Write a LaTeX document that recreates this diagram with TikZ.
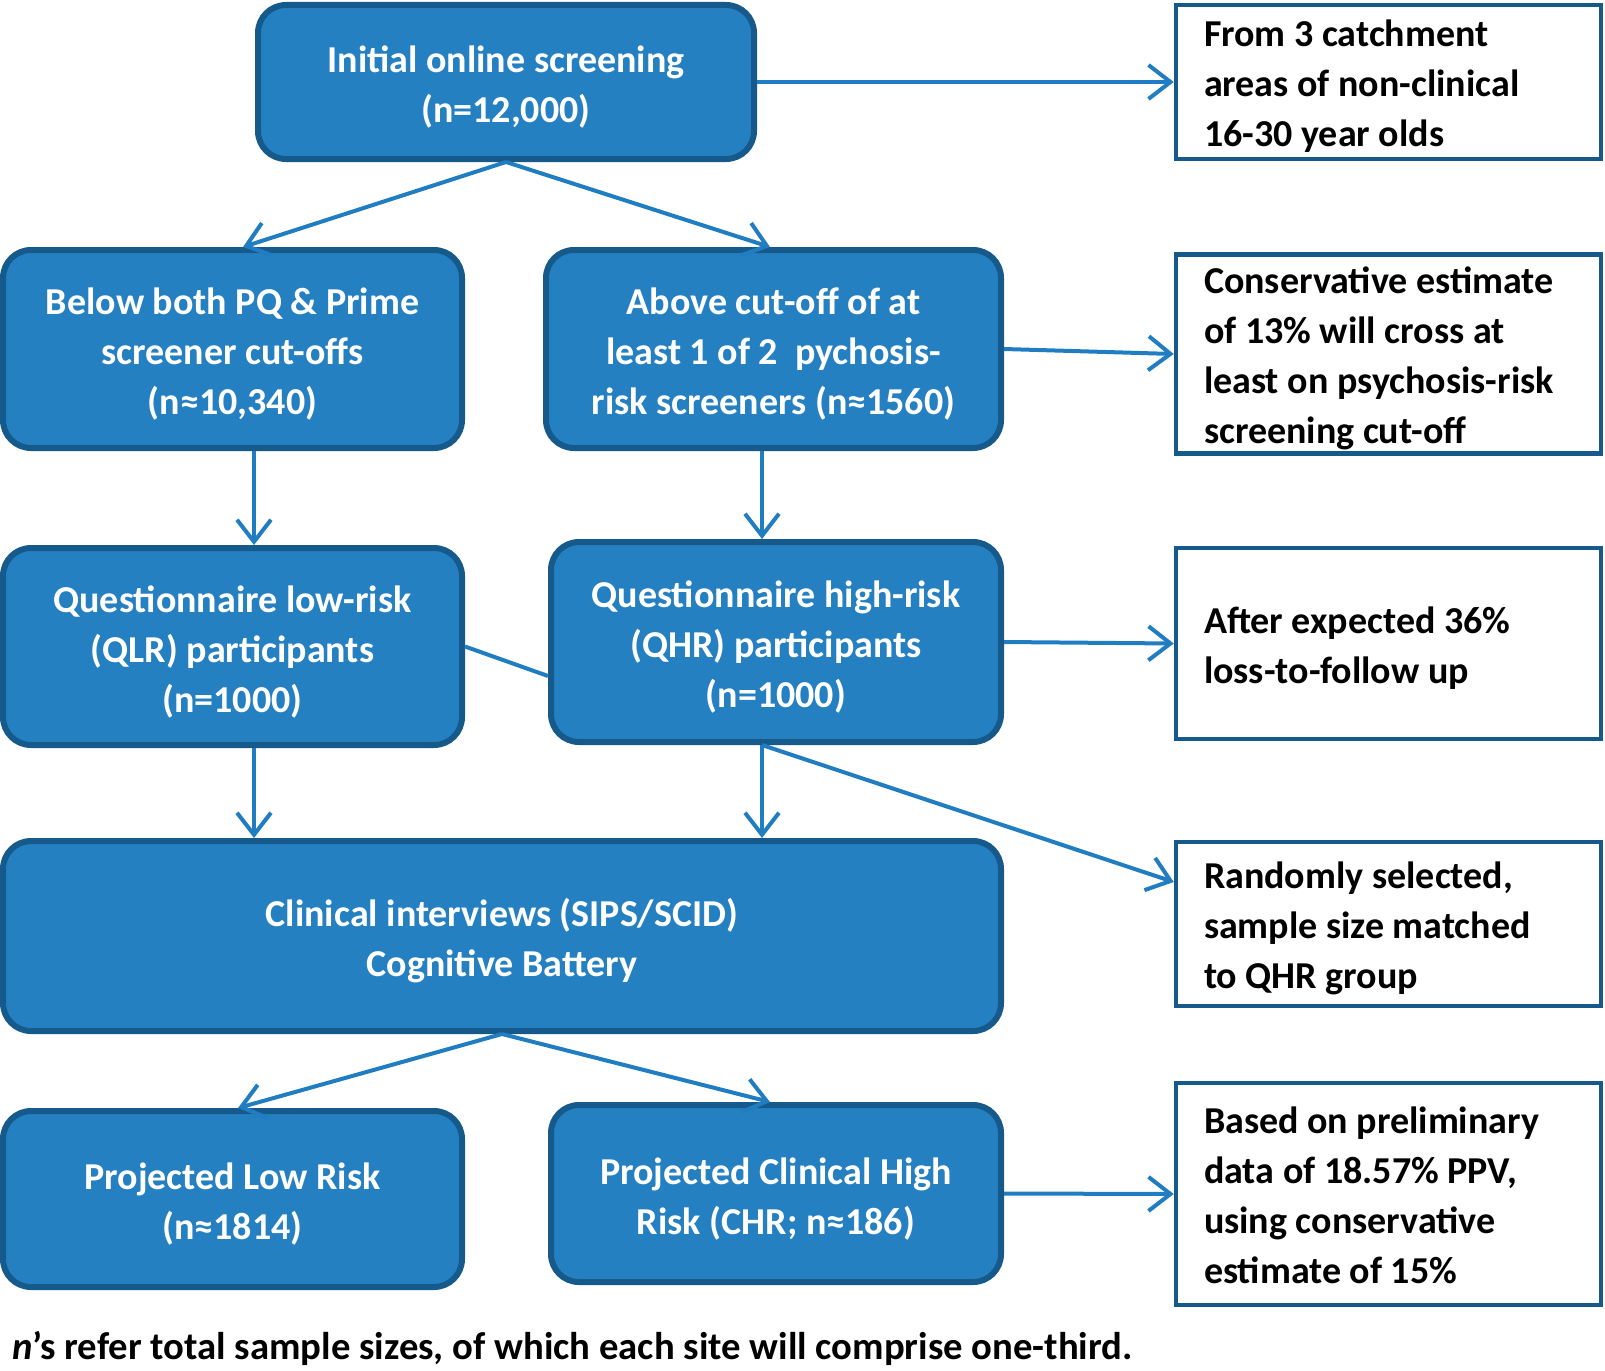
\documentclass[tikz,border=0pt]{standalone}
\usepackage{fontspec}
\setmainfont{Carlito}
\usetikzlibrary{arrows.meta,calc}
\definecolor{boxfill}{RGB}{37,128,194}
\definecolor{boxline}{RGB}{22,90,140}
\definecolor{arrowc}{RGB}{33,125,193}
\newcommand\tstrut{\rule{0pt}{41pt}}
\newcommand\nstrut{\rule{0pt}{39pt}}
\newcommand\bstrut{\rule[-10pt]{0pt}{10pt}}
\begin{document}
\begin{tikzpicture}[x=1pt,y=-1pt,
  font=\bfseries\fontsize{38}{50}\selectfont,
  bluebox/.style={draw=boxline, line width=6pt, fill=boxfill, rounded corners=28pt,
    text=white, align=center, inner sep=0pt},
  notebox/.style={draw=boxline, line width=4.5pt, fill=white, text=black, align=flush left,
    text width=369pt, inner xsep=28pt, inner ysep=0pt},
  arr/.style={draw=arrowc, line width=4pt,
    -{Straight Barb[length=22pt,width=34pt,line width=4pt]}},
  link/.style={draw=arrowc, line width=4pt}]
\useasboundingbox (0,0) rectangle (1605,1370);

% main boxes
\node[bluebox, minimum width=496pt, minimum height=154pt] (init) at (506,82)
  {\tstrut Initial online screening\\(n=12,000)\bstrut};
\node[bluebox, minimum width=459pt, minimum height=198pt] (below) at (232.5,349)
  {\tstrut Below both PQ \& Prime\\screener cut-offs\\(n≈10,340)\bstrut};
\node[bluebox, minimum width=455pt, minimum height=198pt] (above) at (773.5,349)
  {\tstrut Above cut-off of at\\least 1 of 2\ \ pychosis-\\risk screeners (n≈1560)\bstrut};
\node[bluebox, minimum width=459pt, minimum height=197pt] (qlr) at (232.5,646.5)
  {\tstrut Questionnaire low-risk\\(QLR) participants\\(n=1000)\bstrut};
\node[bluebox, minimum width=450pt, minimum height=200pt] (qhr) at (776,642)
  {\tstrut Questionnaire high-risk\\(QHR) participants\\(n=1000)\bstrut};
\node[bluebox, minimum width=998pt, minimum height=190pt] (clin) at (502,936)
  {\tstrut Clinical interviews (SIPS/SCID)\\Cognitive Battery\bstrut};
\node[bluebox, minimum width=459pt, minimum height=176pt] (low) at (232.5,1199)
  {\tstrut Projected Low Risk\\(n≈1814)\bstrut};
\node[bluebox, minimum width=450pt, minimum height=177pt] (chr) at (776,1193.5)
  {\tstrut Projected Clinical High\\Risk (CHR; n≈186)\bstrut};

% note boxes
\node[notebox, minimum height=154pt] (r1) at (1388.5,82)
  {\nstrut From 3 catchment\\areas of non-clinical\\16-30 year olds\bstrut};
\node[notebox, minimum height=196pt] (r2) at (1388.5,354)
  {\nstrut Conservative estimate\\of 13\% will cross at\\least on psychosis-risk\\screening cut-off\bstrut};
\node[notebox, minimum height=191pt] (r3) at (1388.5,643.5)
  {\nstrut After expected 36\%\\loss-to-follow up\bstrut};
\node[notebox, minimum height=164pt] (r4) at (1388.5,924)
  {\nstrut Randomly selected,\\sample size matched\\to QHR group\bstrut};
\node[notebox, minimum height=222pt] (r5) at (1388.5,1194)
  {\nstrut Based on preliminary\\data of 18.57\% PPV,\\using conservative\\estimate of 15\%\bstrut};

% footnote
\node[anchor=base west, inner sep=0pt, font=\bfseries\fontsize{38.7}{46}\selectfont] (note) at (12,1359)
  {\textit{n}’s refer total sample sizes, of which each site will comprise one-third.};

% helper coordinates
\coordinate (cl) at (254,0);
\coordinate (cr) at (762,0);
\coordinate (t1) at (243,0);
\coordinate (t2) at (770,0);
\coordinate (b1) at (238,0);
\coordinate (qm) at (0,676);
\coordinate (r4e) at (0,882);

% connectors
\draw[arr] (init.east) -- (r1.west);
\draw[arr] (init.south) -- (below.north -| t1);
\draw[arr] (init.south) -- (above.north -| t2);
\draw[arr] (above.east) -- (r2.west);
\draw[arr] (below.south -| cl) -- (qlr.north -| cl);
\draw[arr] (above.south -| cr) -- (qhr.north -| cr);
\draw[link] (qlr.east) -- (qhr.west |- qm);
\draw[arr] (qhr.east) -- (r3.west);
\draw[arr] (qlr.south -| cl) -- (clin.north -| cl);
\draw[arr] (qhr.south -| cr) -- (clin.north -| cr);
\draw[arr] (qhr.south -| cr) -- (r4.west |- r4e);
\draw[arr] (clin.south) -- (low.north -| b1);
\draw[arr] (clin.south) -- (chr.north -| t2);
\draw[arr] (chr.east) -- (r5.west);
\end{tikzpicture}
\end{document}
